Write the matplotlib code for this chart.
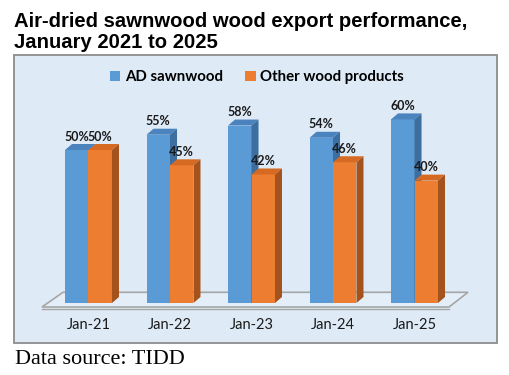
import matplotlib.pyplot as plt
from matplotlib.patches import Polygon, Rectangle

years = ['Jan-21', 'Jan-22', 'Jan-23', 'Jan-24', 'Jan-25']
ad_sawnwood = [50, 55, 58, 54, 60]
other_wood = [50, 45, 42, 46, 40]

blue = ('#5B9BD5', '#4A83BD', '#3C6E9F')     # front, top, side
orange = ('#ED7D31', '#D66A22', '#A5531C')

fig = plt.figure(figsize=(5.09, 3.75), dpi=100)

# panel behind the chart
fig.patches.append(Rectangle((14 / 509, 32 / 375), 483 / 509, 288 / 375,
                             transform=fig.transFigure, facecolor='#DEEBF7',
                             edgecolor='#8C8C8C', lw=1.3, zorder=-5))

ax = fig.add_axes([14 / 509, 32 / 375, 483 / 509, 288 / 375])
ax.set_xlim(-0.914, 5.012)
ax.set_ylim(-13.07, 81.05)
ax.axis('off')
ax.patch.set_alpha(0)

w = 0.288      # bar width
dx = 0.086     # depth offset in x
dy = 1.96      # depth offset in y

# floor
n = len(years)
fx0, fx1 = -0.571, n - 1 + 0.423
floor = Polygon([(fx0, -1.31), (fx0 + 0.258, 3.5), (fx1 + 0.233, 3.5), (fx1, -1.31)],
                closed=True, facecolor='#E4EEF8', edgecolor='#A6A6A6', lw=1.2, zorder=1)
ax.add_patch(floor)
ax.plot([fx0, fx1], [-1.9, -1.9], color='#A6A6A6', lw=1.0, zorder=1)


def bars3d(xs, vals, cols, label):
    b = ax.bar(xs, vals, width=w, color=cols[0], zorder=3, label=label)
    for x, v in zip(xs, vals):
        l, r = x - w / 2, x + w / 2
        ax.add_patch(Polygon([(l, v), (l + dx, v + dy), (r + dx, v + dy), (r, v)],
                             closed=True, facecolor=cols[1], lw=0, zorder=3))
        ax.add_patch(Polygon([(r, 0), (r + dx, dy), (r + dx, v + dy), (r, v)],
                             closed=True, facecolor=cols[2], lw=0, zorder=3))
        ax.text(x, v + 4.4, f'{v}%', ha='center', va='center',
                fontsize=9, fontweight='bold', family='Lato', color='#1A1A1A', zorder=5)
    return b


idx = list(range(n))
bars3d([i - w / 2 for i in idx], ad_sawnwood, blue, 'AD sawnwood')
bars3d([i + w / 2 for i in idx], other_wood, orange, 'Other wood products')

for i, yr in enumerate(years):
    ax.text(i, -7.2, yr, ha='center', va='center', fontsize=10.5, family='Lato', color='#1A1A1A')

ax.legend(loc='center', bbox_to_anchor=((257 - 14) / 483, (343 - 77) / 288), ncol=2,
          frameon=False, handlelength=0.7, handleheight=0.7, handletextpad=0.3,
          columnspacing=1.5, prop={'family': 'Lato', 'weight': 'bold', 'size': 10.8})

title_font = dict(fontsize=14.6, fontweight='bold', family='Liberation Sans', ha='left', va='baseline')
fig.text(14 / 509, 1 - 27 / 375, 'Air-dried sawnwood wood export performance,', **title_font)
fig.text(14 / 509, 1 - 48.5 / 375, 'January 2021 to 2025', **title_font)
fig.text(15 / 509, 11 / 375, 'Data source: TIDD', ha='left', va='baseline',
         fontsize=16, family='Liberation Serif')

fig.savefig('out.png', dpi=100)
